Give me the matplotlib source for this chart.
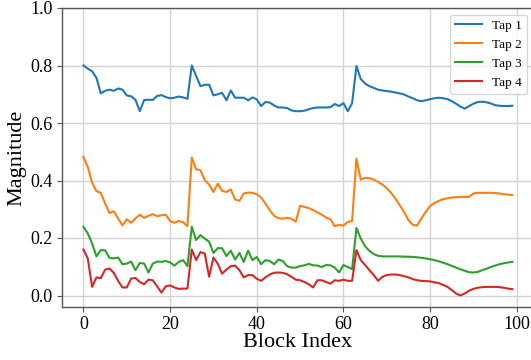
import matplotlib
matplotlib.use("Agg")
import matplotlib.pyplot as plt
import numpy as np

block_index = list(range(100))

tap1 = [0.800, 0.789, 0.780, 0.757, 0.703, 0.712, 0.716, 0.712, 0.720, 0.716,
        0.696, 0.693, 0.681, 0.641, 0.680, 0.681, 0.680, 0.694, 0.697, 0.690,
        0.686, 0.688, 0.692, 0.689, 0.684, 0.800, 0.764, 0.728, 0.733, 0.733,
        0.696, 0.700, 0.705, 0.679, 0.713, 0.688, 0.688, 0.688, 0.679, 0.689,
        0.682, 0.659, 0.673, 0.671, 0.661, 0.654, 0.654, 0.652, 0.644, 0.641,
        0.641, 0.643, 0.648, 0.652, 0.654, 0.654, 0.654, 0.655, 0.666, 0.659,
        0.669, 0.641, 0.669, 0.798, 0.753, 0.737, 0.728, 0.722, 0.716, 0.713,
        0.711, 0.709, 0.706, 0.703, 0.699, 0.692, 0.686, 0.679, 0.676, 0.679,
        0.683, 0.686, 0.688, 0.686, 0.683, 0.676, 0.667, 0.657, 0.650, 0.659,
        0.667, 0.673, 0.674, 0.672, 0.668, 0.662, 0.660, 0.659, 0.659, 0.660]

tap2 = [0.482, 0.447, 0.393, 0.363, 0.357, 0.320, 0.287, 0.293, 0.268, 0.244,
        0.265, 0.253, 0.268, 0.281, 0.270, 0.277, 0.283, 0.276, 0.279, 0.281,
        0.259, 0.253, 0.259, 0.255, 0.241, 0.480, 0.439, 0.436, 0.401, 0.386,
        0.360, 0.389, 0.364, 0.360, 0.369, 0.334, 0.329, 0.355, 0.358, 0.357,
        0.352, 0.341, 0.320, 0.297, 0.277, 0.269, 0.267, 0.270, 0.267, 0.257,
        0.312, 0.308, 0.304, 0.297, 0.289, 0.281, 0.271, 0.265, 0.241, 0.246,
        0.243, 0.256, 0.259, 0.476, 0.403, 0.409, 0.408, 0.403, 0.395, 0.386,
        0.373, 0.357, 0.337, 0.314, 0.290, 0.262, 0.246, 0.243, 0.268, 0.291,
        0.311, 0.322, 0.329, 0.335, 0.338, 0.341, 0.342, 0.343, 0.343, 0.343,
        0.355, 0.357, 0.357, 0.357, 0.357, 0.356, 0.355, 0.352, 0.351, 0.349]

tap3 = [0.239, 0.216, 0.181, 0.136, 0.158, 0.157, 0.131, 0.129, 0.132, 0.109,
        0.111, 0.118, 0.088, 0.113, 0.111, 0.080, 0.111, 0.118, 0.117, 0.120,
        0.115, 0.104, 0.117, 0.123, 0.102, 0.239, 0.193, 0.210, 0.198, 0.187,
        0.148, 0.165, 0.164, 0.137, 0.156, 0.125, 0.148, 0.117, 0.156, 0.123,
        0.134, 0.109, 0.123, 0.120, 0.109, 0.125, 0.120, 0.102, 0.097, 0.097,
        0.102, 0.105, 0.110, 0.105, 0.104, 0.099, 0.106, 0.105, 0.097, 0.080,
        0.106, 0.099, 0.092, 0.235, 0.198, 0.171, 0.155, 0.144, 0.138, 0.136,
        0.136, 0.136, 0.136, 0.136, 0.135, 0.135, 0.134, 0.133, 0.131, 0.129,
        0.126, 0.123, 0.119, 0.114, 0.109, 0.103, 0.097, 0.091, 0.086, 0.081,
        0.080, 0.082, 0.088, 0.093, 0.099, 0.104, 0.109, 0.112, 0.115, 0.117]

tap4 = [0.160, 0.129, 0.030, 0.063, 0.060, 0.090, 0.094, 0.079, 0.051, 0.028,
        0.028, 0.059, 0.061, 0.047, 0.039, 0.055, 0.053, 0.032, 0.010, 0.032,
        0.035, 0.028, 0.023, 0.024, 0.024, 0.160, 0.123, 0.151, 0.146, 0.065,
        0.132, 0.111, 0.076, 0.090, 0.102, 0.104, 0.088, 0.063, 0.071, 0.071,
        0.058, 0.051, 0.063, 0.073, 0.079, 0.080, 0.079, 0.074, 0.065, 0.055,
        0.053, 0.047, 0.039, 0.028, 0.053, 0.053, 0.047, 0.041, 0.053, 0.051,
        0.055, 0.051, 0.051, 0.158, 0.123, 0.106, 0.088, 0.071, 0.051, 0.065,
        0.071, 0.073, 0.073, 0.071, 0.067, 0.063, 0.057, 0.053, 0.051, 0.050,
        0.049, 0.046, 0.043, 0.037, 0.030, 0.019, 0.007, 0.000, 0.007, 0.017,
        0.023, 0.027, 0.029, 0.030, 0.030, 0.030, 0.029, 0.027, 0.024, 0.022]

series = [("Tap 1", tap1), ("Tap 2", tap2), ("Tap 3", tap3), ("Tap 4", tap4)]
colors = ["#1f77b4", "#ff7f0e", "#2ca02c", "#d62728"]

plt.rcParams['font.family'] = ['Liberation Serif', 'DejaVu Serif']

fig = plt.figure(figsize=(5.31, 3.60), dpi=100)
ax = fig.add_axes([62.0 / 531, 53.0 / 360, 471.9 / 531, 299.0 / 360])

for (name, vals), c in zip(series, colors):
    ax.plot(block_index, vals, color=c, linewidth=1.5, label=name)

ax.set_xlim(-4.95, 103.95)
ax.set_ylim(-0.04, 1.0)
ax.set_xticks([0, 20, 40, 60, 80, 100])
ax.set_yticks([0.0, 0.2, 0.4, 0.6, 0.8, 1.0])
ax.grid(True, color='#d3d3d3', linewidth=1.0)
ax.set_axisbelow(True)
ax.tick_params(labelsize=13, length=3.5, color='#555555', pad=3)
for s in ax.spines.values():
    s.set_color('#555555')
    s.set_linewidth(1.0)

ax.set_xlabel("Block Index", fontsize=16, labelpad=0)
ax.set_ylabel("Magnitude", fontsize=16, labelpad=3)
ax.legend(loc='upper right', fontsize=9.5, framealpha=0.8, edgecolor='#cccccc')

fig.savefig("out.png", dpi=100)
